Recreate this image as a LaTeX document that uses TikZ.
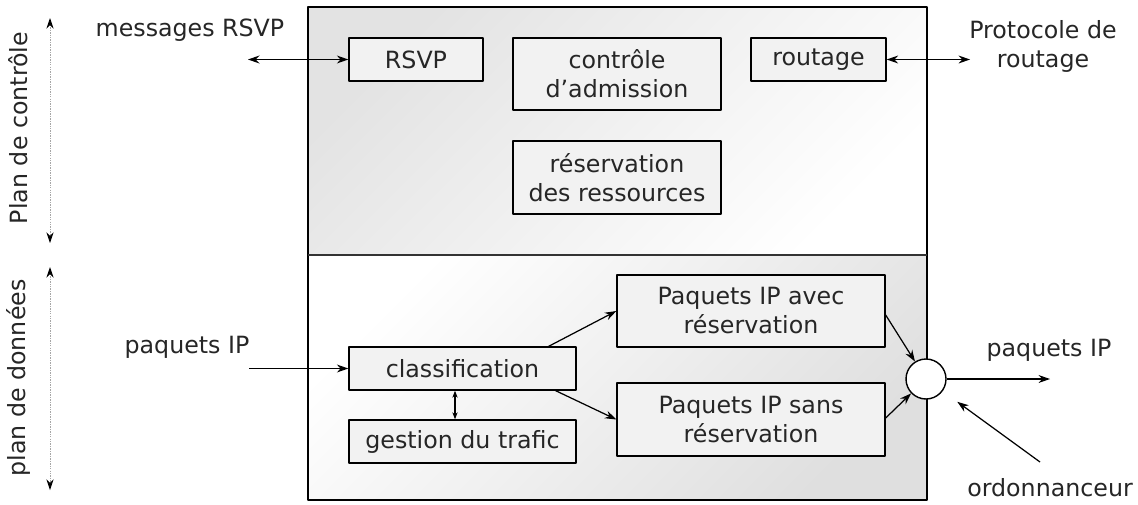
\documentclass[tikz,border=0pt]{standalone}
\usepackage{fontspec}
\setmainfont{DejaVu Sans}
\usetikzlibrary{arrows.meta}
\begin{document}
\begin{tikzpicture}[x=0.02cm, y=-0.02cm, >={Stealth[length=6.5pt,width=4.5pt]}, font=\fontsize{13.5}{16.5}\selectfont, line join=round, text=black!85,
	boite/.style={draw, line width=0.8pt, fill=gray!10, minimum height=0.86cm, inner sep=2pt, align=center},
	fleche/.style={line width=0.7pt},
	plan/.style={draw=gray!70, dash pattern=on 0.8pt off 0.6pt, line width=0.5pt, {Stealth[black,length=6pt,width=4pt]}-{Stealth[black,length=6pt,width=4pt]}}]
	\def\xg{308} \def\xd{927} % bords du routeur
	\def\yh{7} \def\ym{255} \def\yb{500}
	\useasboundingbox (0,0) rectangle (1138,504);
	% les deux plans
	\shade[top color=gray!22, bottom color=white, shading angle=45] (\xg,\yh) rectangle (\xd,\ym);
	\shade[top color=white, bottom color=gray!25, shading angle=45] (\xg,\ym) rectangle (\xd,\yb);
	\draw[line width=0.8pt] (\xg,\yh) rectangle (\xd,\yb);
	\draw[line width=0.8pt, gray!40!black] (\xg,\ym) -- (\xd,\ym);
	% plan de controle
	\node[boite, minimum width=2.68cm] (rsvp) at (416,59.5) {RSVP};
	\node[boite, minimum width=4.16cm, minimum height=1.44cm] (admis) at (617,74) {contrôle\\d’admission};
	\node[boite, minimum width=2.70cm] (routage) at (818.5,59.5) {routage};
	\node[boite, minimum width=4.16cm, minimum height=1.46cm] (resa) at (617,177.5) {réservation\\des ressources};
	% plan de donnees
	\node[boite, minimum width=4.54cm] (classif) at (462.5,368.5) {classification};
	\node[boite, minimum width=4.54cm] (gestion) at (462.5,441.5) {gestion du trafic};
	\node[boite, minimum width=5.36cm, minimum height=1.44cm] (avec) at (751,311) {Paquets IP avec\\réservation};
	\node[boite, minimum width=5.36cm, minimum height=1.46cm] (sans) at (751,419.5) {Paquets IP sans\\réservation};
	\node[draw, line width=0.8pt, fill=white, circle, minimum size=0.8cm, inner sep=0pt] (sched) at (926,379) {};
	% textes exterieurs
	\node (msg) at (190,30) {messages RSVP};
	\node[align=center] (proto) at (1043,46) {Protocole de\\routage};
	\node (pin) at (187,347) {paquets IP};
	\node (pout) at (1049,350) {paquets IP};
	\node (ordo) at (1050,488) {ordonnanceur};
	\node[rotate=90] (lctrl) at (18,128) {Plan de contrôle};
	\node[rotate=90] (ldon) at (18,378) {plan de données};
	% bouts libres des fleches
	\coordinate (eRSVP) at (248,59.5);
	\coordinate (eProto) at (970,59.5);
	\coordinate (eIn) at (249,368.5);
	\coordinate (eOut) at (1050,379);
	\coordinate (eOrdo) at (1040,462);
	\coordinate (h1) at (50,18); \coordinate (h2) at (50,243);
	\coordinate (b1) at (50,267); \coordinate (b2) at (50,490);
	% fleches
	\draw[plan] (h1) -- (h2);
	\draw[plan] (b1) -- (b2);
	\draw[fleche,<->] (eRSVP) -- (rsvp.west);
	\draw[fleche,<->] (routage.east) -- (eProto);
	\draw[fleche,->] (eIn) -- (classif.west);
	\draw[fleche,{Stealth[length=4pt,width=3pt]}-{Stealth[length=4pt,width=3pt]}] ([xshift=-0.15cm]classif.south) -- ([xshift=-0.15cm]gestion.north);
	\draw[fleche,->] ([xshift=-0.56cm]classif.north east) -- (avec.west);
	\draw[fleche,->] ([xshift=-0.42cm]classif.south east) -- (sans.west);
	\draw[fleche,->] ([yshift=-0.08cm]avec.east) -- (sched);
	\draw[fleche,->] ([yshift=0.03cm]sans.east) -- (sched);
	\draw[fleche,->] (sched.east) -- (eOut);
	\draw[fleche,->,shorten >=0.36cm] (eOrdo) -- (sched);
\end{tikzpicture}
\end{document}
